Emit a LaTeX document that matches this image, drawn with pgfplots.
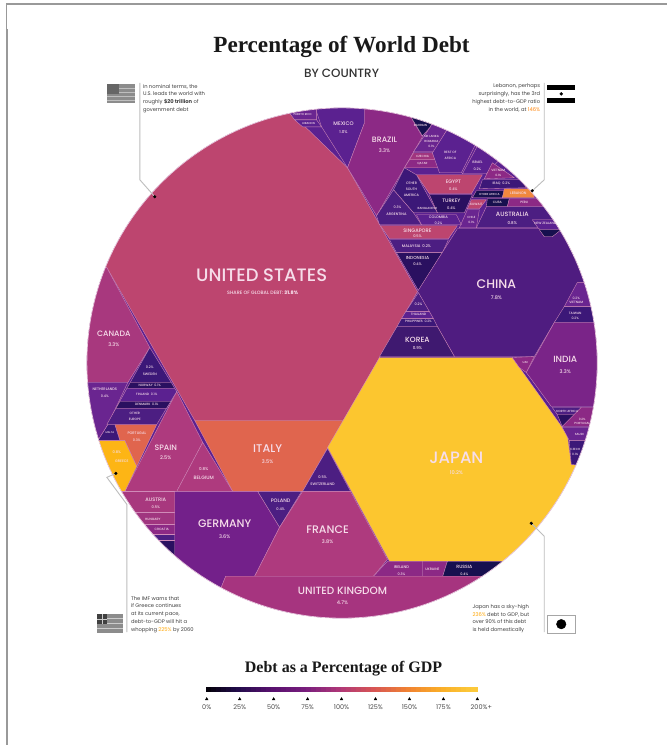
\documentclass[border=0pt]{standalone}
\usepackage{fontspec}
\setsansfont{Poppins}
\newfontfamily\pmed{Poppins Medium}
\newfontfamily\ttl[Scale=1]{Liberation Serif}
\usepackage{pgfplots}
\pgfplotsset{compat=1.18}
\definecolor{cbd}{HTML}{D08AB8}
\definecolor{lbl}{HTML}{F6DDEA}
\definecolor{cUS}{HTML}{BD456F}
\definecolor{cIT}{HTML}{E0654E}
\definecolor{cJP}{HTML}{FCC62F}
\definecolor{cCN}{HTML}{4F1C80}
\definecolor{cDE}{HTML}{73208A}
\definecolor{cIN}{HTML}{7A2488}
\definecolor{cCA}{HTML}{A8387E}
\definecolor{cES}{HTML}{AE3A7E}
\definecolor{cUK}{HTML}{A6347F}
\definecolor{cBR}{HTML}{8C2985}
\definecolor{cMX}{HTML}{5B2190}
\definecolor{cKR}{HTML}{3F1970}
\definecolor{cID}{HTML}{2A1060}
\definecolor{cGR}{HTML}{FDB515}
\definecolor{cPT}{HTML}{E0654E}
\definecolor{cDK}{HTML}{3C1878}
\definecolor{cNV}{HTML}{17104F}
\definecolor{cLB}{HTML}{F0883E}
\definecolor{cP1}{HTML}{6A2590}
\definecolor{cP2}{HTML}{4C1E82}
\definecolor{cP3}{HTML}{A0357F}
\definecolor{lnc}{HTML}{BDBDBD}
\newcommand\cell[2]{\addplot[fill=#1,draw=cbd,line width=0.35pt] coordinates {#2} -- cycle;}
\newcommand\lab[4]{\node[text=lbl,font=\pmed\fontsize{#3}{#3}\selectfont,inner sep=0pt] at (axis cs:#1,#2) {#4};}
\newcommand\note[5]{\node[text=black!75,font=\sffamily\fontsize{5.2}{7.7}\selectfont,inner sep=0pt,anchor=north #3,align=#4] at (axis cs:#1,#2) {#5};}
\pgfplotsset{base/.style={width=668pt,height=746pt,scale only axis,xmin=0,xmax=668,ymin=0,ymax=746,y dir=reverse,axis lines=none,clip=false}}
\begin{document}
\begin{tikzpicture}
\begin{axis}[base]
\addplot[fill=white,draw=none] coordinates {(0,0)(668,0)(668,746)(0,746)} -- cycle;
\clip (axis cs:342.5,363.5) circle [radius=255.5];
\addplot[fill=cMX,draw=none] coordinates {(80,100)(610,100)(610,630)(80,630)} -- cycle;
% large cells
\cell{cUS}{(286,108)(348,168)(418,292)(344,421)(195,421)(107,268)(60,268)(60,90)(286,90)}
\cell{cIT}{(195,421)(344,421)(303,492)(233,492)}
\cell{cES}{(177,392)(203,443)(177,492)(125,492)}
\cell{cES}{(203,443)(233,492)(177,492)}
\cell{cGR}{(98,441)(125,441)(137,467)(125,492)(112,510)(80,480)(80,441)}
\cell{cPT}{(115,425)(157,425)(137,467)(125,441)(120,441)}
\cell{cDK}{(108,425)(115,425)(120,441)(98,441)}
\cell{cCA}{(107,268)(150,348)(128,383)(70,383)(70,268)}
\cell{cP1}{(70,383)(128,383)(108,425)(98,441)(70,441)}
\cell{cDK}{(150,348)(171.5,383)(130.4,383)}
\cell{cID}{(130.4,383)(171.5,383)(175,389)(127,389)}
\cell{cMX}{(127,389)(175,389)(177,392)(166.6,409)(116,409)}
\cell{cID}{(120,402)(171,402)(166.6,409)(116,409)}
\cell{cP2}{(116,409)(166.6,409)(157,425)(107,425)}
% central Europe
\cell{cCA}{(125,492)(175,492)(175,513)(100,513)(100,492)}
\cell{cP3}{(100,513)(175,513)(175,525)(100,525)}
\cell{cBR}{(100,525)(175,525)(175,535)(100,535)}
\cell{cP2}{(100,535)(175,535)(175,541)(100,541)}
\cell{cID}{(100,541)(175,541)(175,570)(100,570)}
\cell{cDE}{(175,492)(258,492)(280,528)(255,577)(226,577)(220,592)(175,570)}
\cell{cP2}{(258,492)(302,492)(280,528)}
\cell{cP2}{(328,449)(351,492)(303,492)}
\cell{cES}{(303,492)(351,492)(388,560)(374,577)(255,577)(280,528)}
\cell{cJP}{(328,448)(380,358)(513,358)(568,435)(572,465)(610,470)(530,590)(505,562)(390,562)}
\cell{cBR}{(388,562)(423,562)(423,577)(374,577)}
\cell{cBR}{(423,562)(448,562)(443,578)(423,577)}
\cell{cNV}{(448,562)(505,562)(490,590)(443,578)}
\cell{cUK}{(226,577)(500,577)(500,640)(200,640)(220,592)}
% top
\cell{cMX}{(317,112)(317,90)(365,90)(365,123)(348,168)(322,127)}
\cell{cP1}{(270,90)(317,90)(317,120)(295,120)(286,108)}
\cell{cMX}{(295,120)(317,120)(322,127)(303,127)}
\cell{cBR}{(365,90)(413,90)(413,120)(423,137)(377,216)(348,168)(365,123)}
\cell{cNV}{(405,100)(440,100)(431,127)(423,136)(412,118)}
\cell{cP1}{(431,127)(445,100)(460,110)(447,131)(435,152)(414,152)}
\cell{cP3}{(414,153)(433,153)(436,160)(410,160)}
\cell{cBR}{(410,160)(436,160)(440,168)(405,168)}
\cell{cMX}{(447,131)(460,110)(490,130)(475,147)(462,173)(440,173)(433,153)}
\cell{cMX}{(477,148)(490,135)(500,160)(487,174)(463,174)}
\cell{cBR}{(493,163)(515,178)(485,179)}
\cell{cDK}{(483,180)(522,180)(527,188)(480,189)}
\cell{cUS}{(417,175)(483,175)(472,194)(430,194)}
\cell{cID}{(430,195)(473,195)(465,213)(438,213)}
\cell{cDK}{(405,168)(417,175)(438,213)(414,213)(394,190)}
\cell{cNV}{(477,191)(505,191)(503,198)(473,198)}
\cell{cLB}{(505,189)(533,189)(535,198)(503,198)}
\cell{cUS}{(472,200)(487,200)(480,209)(468,209)}
\cell{cNV}{(488,199)(510,199)(508,207)(487,207)}
\cell{cBR}{(510,199)(545,199)(552,207)(508,207)}
\cell{cP1}{(468,210)(480,210)(477,228)(460,228)}
\cell{cP2}{(487,207)(552,207)(560,228)(477,228)}
\cell{cMX}{(533,220)(557,220)(566,230)(540,230)}
\cell{cP2}{(394,190)(414,213)(422,225)(380,225)(377,216)}
\cell{cMX}{(417,215)(457,215)(462,225)(422,225)}
\cell{cUS}{(381,226)(458,226)(449,239)(390,239)}
\cell{cP2}{(390,240)(449,240)(443,253)(397,253)}
\cell{cID}{(397,253)(443,253)(419,291)}
% China and its neighbours
\cell{cCN}{(418,292)(458,229)(540,229)(545,237)(553,237)(562,229)(610,265)(585,283)(555,323)(535,357)(455,357)}
\cell{cNV}{(540,230)(562,230)(553,237)(545,237)}
\cell{cP2}{(419,293)(430,312)(406.3,312)}
\cell{cMX}{(406.3,312)(430,312)(434,319)(402,319)}
\cell{cDK}{(402,319)(434,319)(438,327)(397.5,327)}
\cell{cKR}{(397.5,327)(438,327)(455,357)(380,357)}
\cell{cP1}{(578,283)(610,283)(610,307)(565,307)}
\cell{cDK}{(565,307)(610,307)(610,323)(555,323)}
\cell{cIN}{(555,323)(610,323)(610,407)(552,407)(527,373)}
\cell{cBR}{(513,358)(535,357)(527,373)(520,368)}
\cell{cP2}{(553,408)(582,408)(578,415)(558,415)}
\cell{cID}{(558,415)(578,415)(563,427)}
\cell{cBR}{(582,408)(610,408)(610,427)(563,427)}
\cell{cP1}{(563,428)(610,428)(610,441)(570,441)}
\cell{cDK}{(570,441)(610,441)(610,470)(572,465)}
\end{axis}
\begin{axis}[base,colormap={debt}{rgb255=(0,0,0) rgb255=(33,12,74) rgb255=(87,16,110) rgb255=(120,30,125) rgb255=(175,55,120) rgb255=(215,85,85) rgb255=(240,130,50) rgb255=(250,175,40) rgb255=(252,205,60)},point meta=x,point meta min=206,point meta max=479]
% page edge of the source image
\addplot[black!40,line width=1.5pt] coordinates {(6,4)(668,4)};
\addplot[black!40,line width=0.8pt] coordinates {(6,4)(6,29)};
\addplot[black!40,line width=2pt] coordinates {(7,29)(7,746)};
% circle outline
\draw[draw=cbd!45,line width=0.7pt] (axis cs:342.5,363.5) circle [radius=255.5];
% leader lines
\addplot[lnc,line width=0.9pt] coordinates {(140,83)(140,180)(155,197)};
\addplot[lnc,line width=0.9pt] coordinates {(545,83)(545,180)(533,191)};
\addplot[lnc,line width=0.9pt] coordinates {(116,474)(107,478)(127,505)(127,633)};
\addplot[lnc,line width=0.9pt] coordinates {(532,524)(545,537)(545,633)};
\addplot[only marks,mark=*,mark size=1.4pt,black] coordinates {(155,197)(533,191)(116,474)(532,524)};
% flags
\addplot[fill=black!45,draw=none] coordinates {(107,84)(135,84)(135,103)(107,103)} -- cycle;
\addplot[fill=black!60,draw=none] coordinates {(107,84)(119,84)(119,94)(107,94)} -- cycle;
\addplot[black!25,line width=0.6pt] coordinates {(119,88)(135,88)};
\addplot[black!25,line width=0.6pt] coordinates {(119,92)(135,92)};
\addplot[black!25,line width=0.6pt] coordinates {(107,96)(135,96)};
\addplot[black!25,line width=0.6pt] coordinates {(107,100)(135,100)};
\addplot[fill=black,draw=none] coordinates {(548,85)(576,85)(576,90)(548,90)} -- cycle;
\addplot[fill=black,draw=none] coordinates {(548,98)(576,98)(576,103)(548,103)} -- cycle;
\addplot[only marks,mark=*,mark size=1.5pt,black] coordinates {(562,94)};
\addplot[fill=black!45,draw=none] coordinates {(97,615)(123,615)(123,634)(97,634)} -- cycle;
\addplot[fill=black!75,draw=none] coordinates {(97,615)(107,615)(107,625)(97,625)} -- cycle;
\addplot[black!20,line width=0.5pt] coordinates {(97,620)(107,620)};
\addplot[black!20,line width=0.5pt] coordinates {(102,615)(102,625)};
\addplot[black!20,line width=0.6pt] coordinates {(107,619)(123,619)};
\addplot[black!20,line width=0.6pt] coordinates {(107,624)(123,624)};
\addplot[black!20,line width=0.6pt] coordinates {(97,629)(123,629)};
\addplot[fill=white,draw=black!35,line width=0.6pt] coordinates {(548,616)(576,616)(576,634)(548,634)} -- cycle;
\addplot[only marks,mark=*,mark size=4.8pt,black] coordinates {(562,625)};
% colour bar
\addplot[mesh,line width=5pt,line cap=rect,no markers] coordinates {(209,690.5)(214,690.5)(219,690.5)(224,690.5)(229,690.5)(234,690.5)(239,690.5)(244,690.5)(249,690.5)(254,690.5)(259,690.5)(264,690.5)(269,690.5)(274,690.5)(279,690.5)(284,690.5)(289,690.5)(294,690.5)(299,690.5)(304,690.5)(309,690.5)(314,690.5)(319,690.5)(324,690.5)(329,690.5)(334,690.5)(339,690.5)(344,690.5)(349,690.5)(354,690.5)(359,690.5)(364,690.5)(369,690.5)(374,690.5)(379,690.5)(384,690.5)(389,690.5)(394,690.5)(399,690.5)(404,690.5)(409,690.5)(414,690.5)(419,690.5)(424,690.5)(429,690.5)(434,690.5)(439,690.5)(444,690.5)(449,690.5)(454,690.5)(459,690.5)(464,690.5)(469,690.5)(474,690.5)(476,690.5)};
\addplot[only marks,mark=triangle*,mark size=1.5pt,black] coordinates {(207,700)(240,700)(274,700)(308,700)(342,700)(376,700)(410,700)(444,700)(478,700)};
% titles
\node[font=\ttl\bfseries\fontsize{23.2}{23.2}\selectfont,text=black!90] at (axis cs:342,47) {Percentage of World Debt};
\node[font=\pmed\fontsize{12}{12}\selectfont,text=black!80] at (axis cs:342,73) {BY COUNTRY};
\node[font=\ttl\bfseries\fontsize{16}{16}\selectfont,text=black!90] at (axis cs:344,670) {Debt as a Percentage of GDP};
\foreach \x/\t in {207/0\%,240/25\%,274/50\%,308/75\%,342/100\%,376/125\%,410/150\%,444/175\%,482/200\%+}{
  \edef\temp{\noexpand\node[font=\noexpand\sffamily\noexpand\fontsize{6.5}{6.5}\noexpand\selectfont,text=black!70] at (axis cs:\x,708) {\t};}\temp
}
% notes
\note{143}{84}{west}{left}{In nominal terms, the\\U.S. leads the world with\\roughly \textbf{\$20 trillion} of\\government debt}
\note{541}{84}{east}{right}{Lebanon, perhaps\\surprisingly, has the 3rd\\highest debt-to-GDP ratio\\in the world, at \textcolor{orange}{146\%}}
\note{131}{597}{west}{left}{The IMF warns that\\if Greece continues\\at its current pace,\\debt-to-GDP will hit a\\whopping \textcolor{orange!70!yellow}{225\%} by 2060}
\note{473}{605}{west}{left}{Japan has a sky-high\\\textcolor{orange!70!yellow}{236\%} debt to GDP, but\\over 90\% of this debt\\is held domestically}
% labels
\lab{262}{276}{18}{UNITED STATES}
\lab{263}{293}{4.8}{SHARE OF GLOBAL DEBT: \textbf{31.8\%}}
\lab{457}{458}{16.5}{JAPAN}\lab{457}{473}{5}{10.2\%}
\lab{497}{285}{12.5}{CHINA}\lab{497}{298}{5}{7.8\%}
\lab{268}{449}{11.2}{ITALY}\lab{268}{462}{5}{3.5\%}
\lab{225}{524}{11}{GERMANY}\lab{225}{537}{5}{3.6\%}
\lab{328}{530}{11}{FRANCE}\lab{328}{542}{5}{3.8\%}
\lab{343}{592}{10.5}{UNITED KINGDOM}\lab{343}{604}{5}{4.7\%}
\lab{566}{360}{9}{INDIA}\lab{566}{372}{5}{3.3\%}
\lab{114}{334}{7.8}{CANADA}\lab{114}{345}{5}{3.3\%}
\lab{166}{448}{7.8}{SPAIN}\lab{166}{458}{5}{2.5\%}
\lab{385}{140}{7.8}{BRAZIL}\lab{385}{151}{5}{3.3\%}
\lab{344}{124}{5.2}{MEXICO}\lab{344}{132}{4}{1.0\%}
\lab{418}{340}{7.5}{KOREA}\lab{418}{348}{4}{0.9\%}
\lab{513}{215}{6.2}{AUSTRALIA}\lab{513}{223}{4}{0.8\%}
\lab{204}{478}{4.8}{BELGIUM}\lab{204}{470}{4}{0.8\%}
\lab{156}{500}{5}{AUSTRIA}\lab{156}{508}{3.6}{0.5\%}
\lab{281}{501}{5}{POLAND}\lab{281}{510}{3.6}{0.4\%}
\lab{323}{485}{3.6}{SWITZERLAND}\lab{323}{478}{3.6}{0.5\%}
\lab{454}{182}{5}{EGYPT}\lab{454}{189}{3.6}{0.4\%}
\lab{452}{201}{5}{TURKEY}\lab{452}{208}{3.6}{0.4\%}
\lab{418}{231}{5}{SINGAPORE}\lab{418}{237}{3.6}{0.5\%}
\lab{417}{246}{3.8}{MALAYSIA \ 0.2\%}
\lab{418}{258}{4.4}{INDONESIA}\lab{418}{265}{3.6}{0.4\%}
\lab{397}{215}{3.6}{ARGENTINA}\lab{398}{208}{3.4}{0.3\%}
\lab{439}{218}{3.6}{COLOMBIA}\lab{439}{224}{3.4}{0.2\%}
\lab{412}{184}{3.4}{OTHER}\lab{412}{190}{3.4}{SOUTH}\lab{412}{196}{3.4}{AMERICA}
\lab{428}{209}{3}{BANGLADESH}
\lab{465}{568}{4.6}{RUSSIA}\lab{465}{575}{3.4}{0.4\%}
\lab{402}{568}{3.8}{IRELAND}\lab{402}{575}{3.4}{0.3\%}
\lab{433}{570}{3.4}{UKRAINE}
\lab{303}{115}{2.8}{PUERTO RICO}\lab{309}{124}{2.8}{LEBANON}
\lab{546}{224}{3.2}{NEW ZEALAND}
\lab{419}{305}{3.4}{0.2\%}\lab{419}{315}{3.2}{THAILAND}\lab{419}{322}{3.2}{PHILIPPINES \ 0.2\%}
\lab{421}{126}{3}{BAHRAIN}
\lab{432}{137}{3}{SRI LANKA}\lab{432}{142}{3}{ROMANIA}\lab{432}{147}{3}{0.1\%}
\lab{423}{157}{3}{CZECHIA}\lab{423}{164}{3}{QATAR}
\lab{451}{153}{3.2}{REST OF}\lab{451}{159}{3.2}{AFRICA}
\lab{478}{163}{3.4}{ISRAEL}\lab{478}{169}{3.4}{0.2\%}
\lab{499}{171}{3.2}{VIETNAM}\lab{499}{176}{3}{0.1\%}
\lab{502}{184}{3.4}{IRAQ \ 0.2\%}
\lab{490}{194.5}{2.9}{OTHER AFRICA}
\lab{519}{194}{3.6}{LEBANON}
\lab{477}{205}{3.2}{KUWAIT}
\lab{498}{203}{3.2}{CUBA}
\lab{525}{203}{3.2}{PERU}
\lab{472}{218}{3}{CHILE}\lab{472}{223}{3}{0.1\%}
\lab{577}{299}{3.2}{0.2\%}\lab{577}{303}{3.2}{VIETNAM}
\lab{576}{314}{3.2}{TAIWAN}\lab{576}{319}{3.2}{0.2\%}
\lab{526}{363}{2.8}{UAE}
\lab{568}{412}{3}{NORTH AFRICA}
\lab{583}{420}{3}{0.2\%}\lab{583}{424}{3}{PORTUGAL}
\lab{580}{435}{3}{SAUDI}
\lab{576}{450}{3}{CZECH}\lab{576}{455}{3}{0.1\%}
\lab{117}{453}{3.6}{0.8\%}\lab{122}{462}{3.6}{GREECE}
\lab{137}{434}{3.6}{PORTUGAL}\lab{137}{441}{3.4}{0.3\%}
\lab{105}{390}{3.6}{NETHERLANDS}\lab{105}{397}{3.4}{0.4\%}
\lab{150}{368}{3.4}{0.2\%}\lab{150}{375}{3.4}{SWEDEN}
\lab{150}{386}{3.2}{NORWAY \ 0.1\%}
\lab{147}{395}{3.2}{FINLAND \ 0.1\%}
\lab{147}{405}{3.2}{DENMARK \ 0.1\%}
\lab{135}{414}{3.2}{OTHER}\lab{135}{420}{3.2}{EUROPE}
\lab{110}{433}{2.6}{MALTA}
\lab{153}{520}{3.2}{HUNGARY}
\lab{162}{530}{3.2}{CROATIA}
\end{axis}
\end{tikzpicture}
\end{document}
